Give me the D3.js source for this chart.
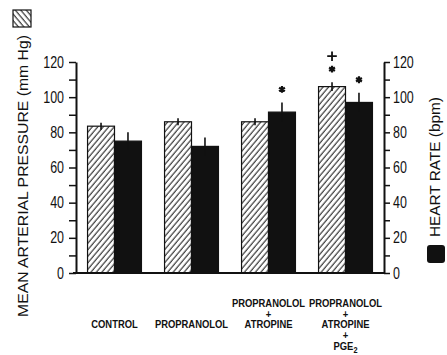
<!DOCTYPE html>
<html>
<head>
<meta charset="utf-8">
<script src="https://cdn.jsdelivr.net/npm/d3@7"></script>
<style>
  body { margin: 0; background: #fff; }
  svg { display: block; }
  .axis text { font-family: "Liberation Sans", "DejaVu Sans", sans-serif; font-size: 16px; fill: #111; }
  .axis line, .axis path { stroke: #111; }
  .title { font-family: "Liberation Sans", "DejaVu Sans", sans-serif; font-size: 14px; fill: #111; }
  .cat { font-family: "Liberation Sans", "DejaVu Sans", sans-serif; font-weight: bold; font-size: 11.5px; fill: #111; }
</style>
</head>
<body>
<svg id="chart" width="447" height="355"></svg>
<script>
/*    ========    DATA    =========    */

var groups = ["CONTROL", "PROPRANOLOL", "PROP_ATRO", "PROP_ATRO_PGE"];
var series = ["map", "hr"];

// mean arterial pressure (mm Hg) and heart rate (bpm)
var mapMean = [83.5, 86, 86, 106];
var mapErr  = [2, 2, 2, 2.5];
var hrMean  = [75, 72, 91.5, 97];
var hrErr   = [5, 5, 5.5, 5.5];

// significance markers, listed bottom to top
var mapMarks = [[], [], [], ["*", "+"]];
var hrMarks  = [[], [], ["*"], ["*"]];

// category labels, one entry per text line
var catLines = [
    ["", "", "CONTROL"],
    ["", "", "PROPRANOLOL"],
    ["PROPRANOLOL", "+", "ATROPINE"],
    ["PROPRANOLOL", "+", "ATROPINE", "+", "PGE|2"]
];

var yTicks = d3.range(0, 121, 10);

/*    ========    SETTINGS    =========    */

var svg = d3.select("#chart");

var padL = 76, padR = 384, padT = 62, padB = 273;
var NARROW = 0.78;     // horizontal squeeze for tick lettering
var NARROW_CAT = 0.82; // and for category labels

var x = d3.scaleBand().domain(groups).range([padL, padR])
    .paddingInner(0.3).paddingOuter(0.15);
var xs = d3.scaleBand().domain(series).range([0, x.bandwidth()]);
var y = d3.scaleLinear().domain([0, 120]).range([padB, padT]);

var defs = svg.append("defs");

function hatch(id, angle) {
    defs.append("pattern")
        .attr("id", id)
        .attr("patternUnits", "userSpaceOnUse")
        .attr("width", 4.2).attr("height", 10)
        .attr("patternTransform", "rotate(" + angle + ")")
        .append("line")
        .attr("x1", 1).attr("x2", 1).attr("y1", 0).attr("y2", 10)
        .attr("stroke", "#111").attr("stroke-width", 1);
}
hatch("hatchBar", 40);
hatch("hatchKey", -40);

/*    ========    BARS    =========    */

var rows = groups.map(function(g, i) {
    return [
        {g: g, s: "map", v: mapMean[i], e: mapErr[i], m: mapMarks[i]},
        {g: g, s: "hr", v: hrMean[i], e: hrErr[i], m: hrMarks[i]}
    ];
});
var bars = [].concat.apply([], rows);

function bx(d) { return x(d.g) + xs(d.s); }
function cx(d) { return bx(d) + xs.bandwidth() / 2; }

svg.append("g").selectAll("rect")
    .data(bars).enter().append("rect")
    .attr("x", bx)
    .attr("y", function(d) { return y(d.v); })
    .attr("width", xs.bandwidth())
    .attr("height", function(d) { return y(0) - y(d.v); })
    .attr("fill", function(d) { return d.s === "map" ? "url(#hatchBar)" : "#111"; })
    .attr("stroke", "#111")
    .attr("stroke-width", 1.2);

// error bars
svg.append("g").selectAll("line")
    .data(bars).enter().append("line")
    .attr("x1", cx).attr("x2", cx)
    .attr("y1", function(d) { return y(d.v - d.e); })
    .attr("y2", function(d) { return y(d.v + d.e); })
    .attr("stroke", "#111")
    .attr("stroke-width", 1.6);

// significance markers
var markData = [];
bars.forEach(function(d) {
    d.m.forEach(function(sym, k) {
        markData.push({x: cx(d), y: y(d.v + d.e) - 13 * (k + 1), sym: sym});
    });
});
svg.append("g").selectAll("path")
    .data(markData).enter().append("path")
    .attr("transform", function(d) { return "translate(" + d.x + "," + d.y + ")"; })
    .attr("d", function(d) {
        return d.sym === "*"
            ? d3.symbol(d3.symbolAsterisk, 32)()
            : d3.symbol(d3.symbolPlus, 32)();
    })
    .attr("fill", "none")
    .attr("stroke", "#111")
    .attr("stroke-width", function(d) { return d.sym === "*" ? 2.2 : 1.8; });

/*    ========    AXES    =========    */

function fmt(d) { return d % 20 === 0 ? d : ""; }

var yAxisL = d3.axisLeft(y).tickValues(yTicks).tickFormat(fmt)
    .tickSize(7).tickSizeOuter(0).tickPadding(5);
var yAxisR = d3.axisRight(y).tickValues(yTicks).tickFormat(fmt)
    .tickSize(6).tickSizeOuter(0).tickPadding(3);

var gl = svg.append("g").attr("class", "axis")
    .attr("transform", "translate(" + padL + ",0)")
    .call(yAxisL);
var gr = svg.append("g").attr("class", "axis")
    .attr("transform", "translate(" + padR + ",0)")
    .call(yAxisR);
[gl, gr].forEach(function(g) {
    g.select(".domain").attr("stroke-width", 2);
    g.selectAll(".tick line").attr("stroke-width", 1.5);
    // squeeze tick labels horizontally, keeping their anchor edge in place
    g.selectAll(".tick text").each(function() {
        var t = d3.select(this), x0 = +t.attr("x");
        t.attr("transform", "translate(" + x0 + ",0) scale(" + NARROW + ",1)").attr("x", 0);
    });
});

// baseline
svg.append("line")
    .attr("x1", padL - 3).attr("x2", padR)
    .attr("y1", y(0)).attr("y2", y(0))
    .attr("stroke", "#111").attr("stroke-width", 2);

/*    ========    TITLES & KEYS    =========    */

svg.append("text").attr("class", "title")
    .attr("transform", "translate(28,176) rotate(-90)")
    .attr("text-anchor", "middle")
    .attr("textLength", 282).attr("lengthAdjust", "spacingAndGlyphs")
    .text("MEAN ARTERIAL PRESSURE (mm Hg)");

svg.append("rect")
    .attr("x", 13).attr("y", 10).attr("width", 18).attr("height", 17)
    .attr("fill", "url(#hatchKey)").attr("stroke", "#111").attr("stroke-width", 1.2);

svg.append("text").attr("class", "title")
    .attr("transform", "translate(440,167) rotate(-90)")
    .attr("text-anchor", "middle")
    .attr("textLength", 140).attr("lengthAdjust", "spacingAndGlyphs")
    .text("HEART RATE (bpm)");

svg.append("rect")
    .attr("x", 427).attr("y", 245).attr("width", 18).attr("height", 18)
    .attr("rx", 3)
    .attr("fill", "#111");

/*    ========    CATEGORY LABELS    =========    */

var cat = svg.append("g").selectAll("text")
    .data(catLines).enter().append("text")
    .attr("class", "cat")
    .attr("text-anchor", "middle")
    .attr("transform", function(d, i) {
        return "translate(" + (x(groups[i]) + x.bandwidth() / 2) + ",0) scale(" + NARROW_CAT + ",1)";
    })
    .attr("x", 0)
    .attr("y", 307);

cat.each(function(lines) {
    var t = d3.select(this);
    lines.forEach(function(line, k) {
        var parts = line.split("|");
        t.append("tspan").attr("x", 0).attr("y", 307 + k * 10.7).text(parts[0]);
        if (parts[1]) {
            t.append("tspan").attr("dy", 3).attr("font-size", "9px").text(parts[1]);
        }
    });
});
</script>
</body>
</html>
